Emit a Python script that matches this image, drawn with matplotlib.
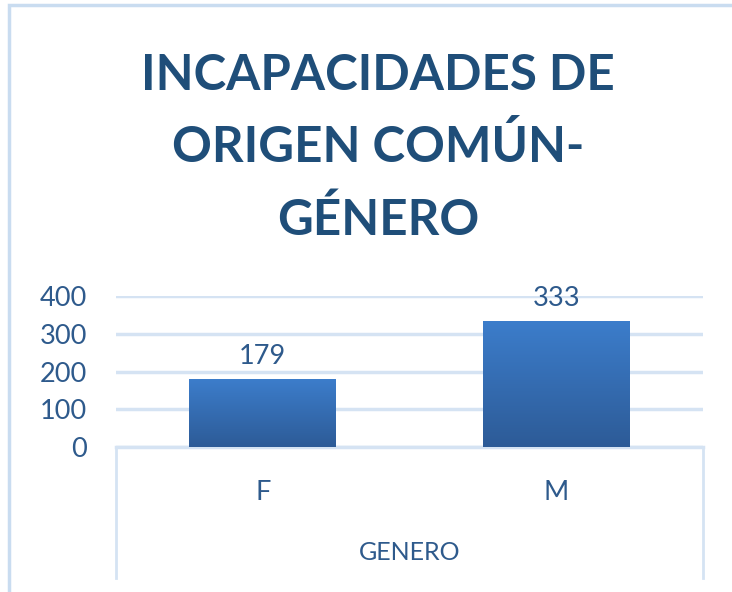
import matplotlib.pyplot as plt
import numpy as np
from matplotlib.patches import Rectangle
from matplotlib.lines import Line2D
from matplotlib.colors import LinearSegmentedColormap

categories = ['F', 'M']
values = [179, 333]
yticks = [0, 100, 200, 300, 400]
title_lines = ['INCAPACIDADES DE', 'ORIGEN COMÚN-', 'GÉNERO']
xlabel = 'GENERO'

W, H = 732, 592
fig = plt.figure(figsize=(W / 100, H / 100), dpi=100)
plt.rcParams['font.family'] = ['Lato', 'DejaVu Sans']

text_col = '#2E5A8C'
title_col = '#1F4E79'
grid_col = '#D5E3F3'

# outer chart border
fig.patches.append(Rectangle((9 / W, -0.1), 1.2, (592 - 5) / H + 0.1, transform=fig.transFigure,
                             fill=False, edgecolor='#C9DCF0', linewidth=2.5))

ax = fig.add_axes([116 / W, (H - 447) / H, (703 - 116) / W, 151 / H])
x = np.arange(len(categories))
bars = ax.bar(x, values, width=0.5, color='none', zorder=3)

# gradient fill for the bars
grad = np.linspace(0, 1, 256).reshape(-1, 1)
cmap = LinearSegmentedColormap.from_list('b', ['#2D5B97', '#3C7DCB'])
for b in bars:
    x0, y0 = b.get_x(), b.get_y()
    im = ax.imshow(grad, cmap=cmap, aspect='auto', origin='lower',
                   extent=[x0, x0 + b.get_width(), y0, y0 + b.get_height()], zorder=3)
    im.set_clip_path(b)
ax.set_xlim(-0.5, len(categories) - 0.5)
ax.set_ylim(0, 400)

for xi, v in zip(x, values):
    ax.text(xi, v + 28, str(v), ha='center', va='bottom', fontsize=19.5, color=text_col)

ax.set_yticks(yticks)
ax.set_yticklabels([str(t) for t in yticks], fontsize=19.5, color=text_col)
ax.tick_params(axis='y', length=0, pad=21)
ax.set_xticks([])
ax.grid(axis='y', color=grid_col, linewidth=2.5, zorder=0)
ax.set_axisbelow(True)
for s in ['top', 'right', 'left']:
    ax.spines[s].set_visible(False)
ax.spines['bottom'].set_color(grid_col)
ax.spines['bottom'].set_linewidth(2.5)

# category table lines below axis
for px in [116, 703]:
    fig.lines.append(Line2D([px / W, px / W], [(H - 447) / H, (H - 578) / H],
                            transform=fig.transFigure, color=grid_col, linewidth=2))

for xi, c in zip(x, categories):
    fig.text((116 + (xi + 0.5) * 293.5) / W, (H - 492) / H, c, ha='center', va='center',
             fontsize=19.5, color=text_col)
fig.text((116 + 703) / 2 / W, (H - 553) / H, xlabel, ha='center', va='center',
         fontsize=18, color=text_col)

# title, one line at a time
for i, line in enumerate(title_lines):
    fig.text(378 / W, (H - 90 - i * 72.5) / H, line, ha='center', va='baseline',
             fontsize=35.5, fontweight='bold', color=title_col)

fig.savefig('out.png', dpi=100)
